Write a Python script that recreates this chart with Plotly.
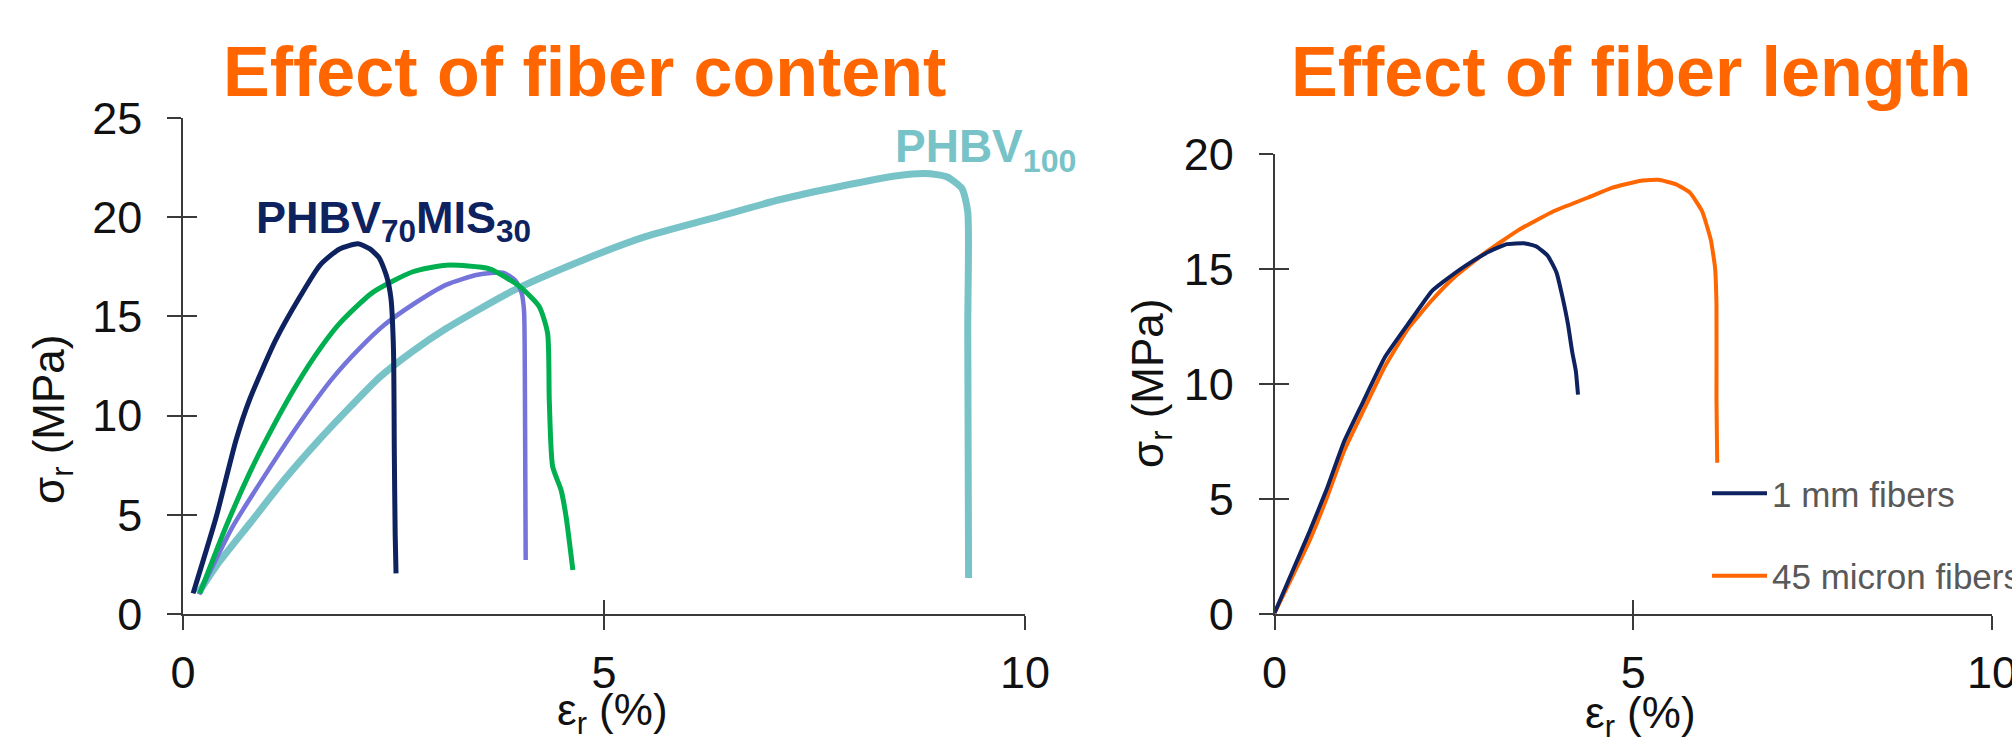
import plotly.graph_objects as go

W, H = 2012, 737

# ---------------- data: left panel (effect of fiber content) ----------------
navy_x = [0.12, 0.395, 0.63, 0.79, 1.10, 1.39, 1.63, 1.86, 2.08, 2.22, 2.33, 2.42, 2.47, 2.50, 2.51, 2.52, 2.53]
navy_y = [1.04, 4.9, 8.77, 10.8, 13.8, 16.0, 17.6, 18.4, 18.66, 18.4, 17.95, 17.0, 15.9, 13.3, 8.0, 4.0, 2.05]

green_x = [0.20, 0.51, 0.79, 0.99, 1.30, 1.55, 1.85, 2.25, 2.73, 3.13, 3.64, 4.00, 4.23, 4.33, 4.35, 4.39, 4.49, 4.55, 4.63]
green_y = [1.04, 4.4, 7.1, 8.8, 11.2, 12.9, 14.6, 16.2, 17.25, 17.58, 17.4, 16.5, 15.5, 14.15, 10.8, 7.43, 6.25, 4.9, 2.22]

purple_x = [0.19, 0.59, 0.99, 1.38, 1.78, 2.10, 2.40, 2.73, 3.13, 3.50, 3.80, 3.95, 4.02, 4.05, 4.06, 4.07]
purple_y = [0.99, 4.4, 7.1, 9.6, 11.9, 13.4, 14.6, 15.6, 16.6, 17.1, 17.2, 16.8, 16.2, 15.3, 12.0, 2.72]

teal_x = [0.18, 0.40, 0.80, 1.20, 1.60, 2.00, 2.34, 2.73, 3.13, 3.92, 4.71, 5.50, 6.29, 7.08, 7.80, 8.48, 8.82, 9.07, 9.25, 9.32, 9.32, 9.33]
teal_y = [1.04, 2.45, 4.6, 6.75, 8.7, 10.5, 11.95, 13.25, 14.4, 16.3, 17.77, 19.03, 19.95, 20.88, 21.55, 22.09, 22.2, 22.04, 21.45, 20.27, 14.36, 1.82]

# ---------------- data: right panel (effect of fiber length) ----------------
mm1_x = [0.0, 0.24, 0.49, 0.73, 0.97, 1.22, 1.54, 1.86, 2.19, 2.35, 2.67, 3.00, 3.24, 3.48, 3.65, 3.81, 3.93, 4.01, 4.09, 4.15, 4.20, 4.23]
mm1_y = [0.04, 1.78, 3.6, 5.45, 7.5, 9.13, 11.17, 12.6, 14.03, 14.44, 15.16, 15.77, 16.08, 16.12, 15.98, 15.57, 14.85, 13.83, 12.6, 11.38, 10.56, 9.54]

mic45_x = [0.0, 0.24, 0.49, 0.73, 0.97, 1.22, 1.54, 1.86, 2.19, 2.51, 2.92, 3.40, 3.89, 4.38, 4.70, 5.11, 5.35, 5.59, 5.79, 5.96, 6.08, 6.14, 6.16, 6.16, 6.17]
mic45_y = [0.04, 1.57, 3.2, 5.05, 7.09, 8.72, 10.77, 12.4, 13.63, 14.65, 15.67, 16.69, 17.51, 18.12, 18.53, 18.84, 18.88, 18.69, 18.32, 17.51, 16.28, 15.06, 13.42, 9.34, 6.58]

left_yticks = [0, 5, 10, 15, 20, 25]
right_yticks = [0, 5, 10, 15, 20]
xticks = [0, 5, 10]

titles = ["Effect of fiber content", "Effect of fiber length"]
legend_names = ["1 mm fibers", "45 micron fibers"]

# ---------------- style ----------------
FONT = "Liberation Sans, Arial, sans-serif"
ORANGE = "#FF6600"
NAVY = "#0E2260"
GREEN = "#00B050"
PURPLE = "#7474DA"
TEAL = "#78C3C8"
AXIS_C = "#3a3a3a"

fig = go.Figure()

def add(x, y, color, width, xa, ya, name=None, show=False, smoothing=0.6, rank=1000):
    fig.add_trace(go.Scatter(
        x=x, y=y, mode="lines", name=name, showlegend=show,
        legendgroup=name, legendrank=rank,
        line=dict(color=color, width=width, shape="spline", smoothing=smoothing),
        xaxis=xa, yaxis=ya, hoverinfo="skip"))

add(teal_x, teal_y, TEAL, 7, "x", "y")
add(purple_x, purple_y, PURPLE, 4.5, "x", "y")
add(green_x, green_y, GREEN, 5, "x", "y")
add(navy_x, navy_y, NAVY, 5, "x", "y")

add(mic45_x, mic45_y, ORANGE, 4, "x2", "y2", legend_names[1], True, 0.4, rank=2)
add(mm1_x, mm1_y, NAVY, 4, "x2", "y2", legend_names[0], True, 0.4, rank=1)

# invisible anchors so the overlay (inside-tick) axes are drawn
for xa, ya in [("x3", "y"), ("x", "y3"), ("x4", "y2"), ("x2", "y4")]:
    fig.add_trace(go.Scatter(x=[None], y=[None], xaxis=xa, yaxis=ya,
                             showlegend=False, hoverinfo="skip"))

def px_x(p):
    return p / W

def px_y(p):
    return (H - p) / H

LX = [px_x(183), px_x(1025)]
RX = [px_x(1274.5), px_x(1992)]
LY = [px_y(614), px_y(118)]
RY = [px_y(614), px_y(154)]

tickfont = dict(family=FONT, size=45, color="#111111")
common = dict(showgrid=False, zeroline=False, showline=True, linecolor=AXIS_C,
              linewidth=1.5, ticks="outside", ticklen=14, tickwidth=1.5,
              tickcolor=AXIS_C, tickfont=tickfont, ticklabeloverflow="allow")
inner = dict(showgrid=False, zeroline=False, showline=False, ticks="inside",
             ticklen=14, tickwidth=1.5, tickcolor=AXIS_C, showticklabels=False)

fig.update_layout(
    width=W, height=H,
    margin=dict(l=0, r=0, t=0, b=0, autoexpand=False),
    paper_bgcolor="white", plot_bgcolor="white",
    font=dict(family=FONT),
    xaxis=dict(domain=LX, range=[0, 10], anchor="y", tickvals=xticks,
               ticklabelstandoff=4, **common),
    yaxis=dict(domain=LY, range=[0, 25], anchor="x", tickvals=left_yticks,
               ticklabelstandoff=16, **common),
    xaxis2=dict(domain=RX, range=[0, 10], anchor="y2", tickvals=xticks,
                ticklabelstandoff=4, **common),
    yaxis2=dict(domain=RY, range=[0, 20], anchor="x2", tickvals=right_yticks,
                ticklabelstandoff=16, **common),
    xaxis3=dict(overlaying="x", anchor="y", range=[0, 10], tickvals=xticks, **inner),
    yaxis3=dict(overlaying="y", anchor="x", range=[0, 25], tickvals=left_yticks, **inner),
    xaxis4=dict(overlaying="x2", anchor="y2", range=[0, 10], tickvals=xticks, **inner),
    yaxis4=dict(overlaying="y2", anchor="x2", range=[0, 20], tickvals=right_yticks, **inner),
    legend=dict(x=px_x(1707), y=px_y(464), xanchor="left", yanchor="top",
                bgcolor="rgba(0,0,0,0)", font=dict(family=FONT, size=35, color="#595959"),
                itemwidth=55, tracegroupgap=34, traceorder="grouped"),
)

ann = []
for t, cx in zip(titles, [584, 1631]):
    ann.append(dict(text="<b>%s</b>" % t, x=px_x(cx), y=px_y(72), xref="paper", yref="paper",
                    xanchor="center", yanchor="middle", showarrow=False,
                    font=dict(family=FONT, size=70, color=ORANGE)))
for cx, cy in [(52, 420), (1151, 384)]:
    ann.append(dict(text="σ<sub>r</sub> (MPa)", x=px_x(cx), y=px_y(cy), xref="paper", yref="paper",
                    xanchor="center", yanchor="middle", textangle=-90, showarrow=False,
                    font=dict(family=FONT, size=44, color="#111111")))
for cx, cy in [(612, 713), (1640, 716)]:
    ann.append(dict(text="ε<sub>r</sub> (%)", x=px_x(cx), y=px_y(cy), xref="paper", yref="paper",
                    xanchor="center", yanchor="middle", showarrow=False,
                    font=dict(family=FONT, size=44, color="#111111")))
ann.append(dict(text="<b>PHBV<sub>70</sub>MIS<sub>30</sub></b>", x=0.84, y=18.3, xref="x", yref="y",
                xanchor="left", yanchor="bottom", showarrow=False,
                font=dict(family=FONT, size=45, color=NAVY)))
ann.append(dict(text="<b>PHBV<sub>100</sub></b>", x=8.43, y=21.85, xref="x", yref="y",
                xanchor="left", yanchor="bottom", showarrow=False,
                font=dict(family=FONT, size=46, color=TEAL)))
fig.update_layout(annotations=ann)

fig.write_html("out.html")
